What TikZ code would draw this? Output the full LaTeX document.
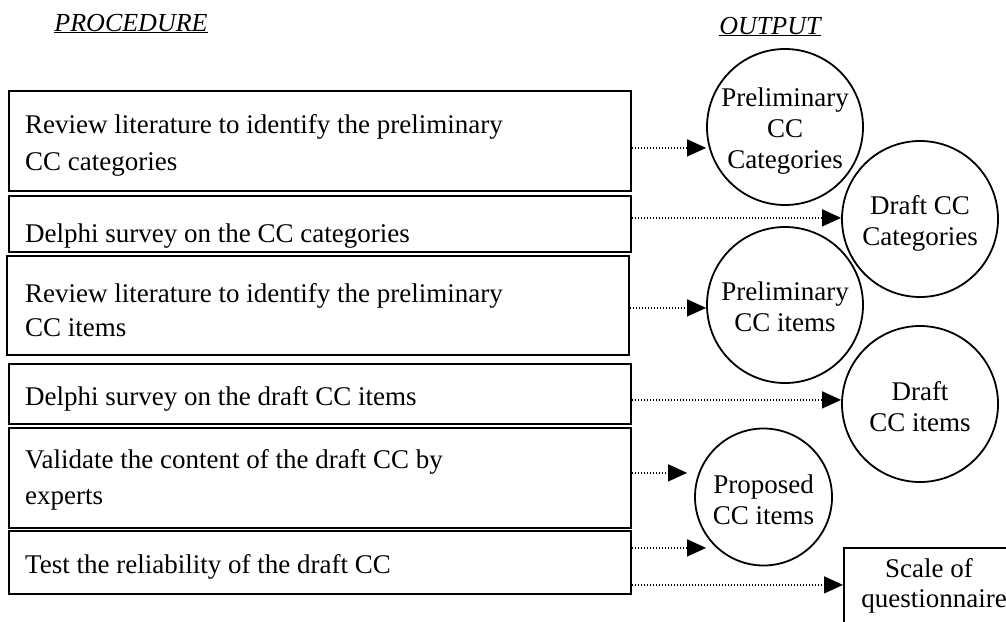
\documentclass[tikz,border=0pt]{standalone}
\usepackage{fontspec}
\setmainfont{Liberation Serif}
\usetikzlibrary{arrows.meta}
\begin{document}
\begin{tikzpicture}[x=1pt,y=-1pt,
  stepbox/.style={draw, line width=1.8pt, rectangle, inner sep=0pt, anchor=north west, minimum width=622pt},
  outc/.style={draw, line width=1.8pt, circle, inner sep=0pt},
  btxt/.style={anchor=base west, inner sep=0pt, font=\fontsize{27}{31}\selectfont},
  ctxt/.style={align=center, inner sep=0pt, font=\fontsize{27}{31}\selectfont},
  head/.style={anchor=base, inner sep=0pt, font=\fontsize{26}{30}\selectfont\itshape},
  conn/.style={line width=1.3pt, dash pattern=on 1.4pt off 1.6pt, -{Triangle[length=19pt,width=17pt]}}]
\useasboundingbox (0,0) rectangle (1006,621);
\clip (0,0) rectangle (1006,621);

% headings
\node[head] (hproc) at (131,31) {\underline{PROCEDURE}};
\node[head] (hout) at (770,34) {\underline{OUTPUT}};

% procedure boxes
\node[stepbox, minimum height=100pt] (b1) at (8,90) {};
\node[stepbox, minimum height=56pt] (b2) at (8,195) {};
\node[stepbox, minimum height=99pt] (b3) at (6,255) {};
\node[stepbox, minimum height=60pt] (b4) at (8,363) {};
\node[stepbox, minimum height=100pt] (b5) at (8,427) {};
\node[stepbox, minimum height=63pt] (b6) at (8,530) {};

\node[btxt] (t1a) at (25,133) {Review literature to identify the preliminary};
\node[btxt] (t1b) at (25,170) {CC categories};
\node[btxt] (t2a) at (25,242) {Delphi survey on the CC categories};
\node[btxt] (t3a) at (25,302) {Review literature to identify the preliminary};
\node[btxt] (t3b) at (25,336) {CC items};
\node[btxt] (t4a) at (25,405) {Delphi survey on the draft CC items};
\node[btxt] (t5a) at (25,468) {Validate the content of the draft CC by};
\node[btxt] (t5b) at (25,504) {experts};
\node[btxt] (t6a) at (25,573) {Test the reliability of the draft CC};

% outputs
\node[outc, minimum size=156pt] (c1) at (785,127) {};
\node[outc, minimum size=156pt] (c2) at (920,219) {};
\node[outc, minimum size=156pt] (c3) at (785,305) {};
\node[outc, minimum size=156pt] (c4) at (920,404) {};
\node[outc, minimum size=137pt] (c5) at (763.5,497) {};
\node[draw, line width=1.8pt, rectangle, inner sep=0pt, anchor=north west, minimum width=172pt, minimum height=100pt] (sq) at (843,547) {};

\node[ctxt] (l1) at (785,131) {Preliminary\\CC\\Categories};
\node[ctxt] (l2) at (920,223) {Draft CC\\Categories};
\node[ctxt] (l3) at (785,307) {Preliminary\\CC items};
\node[ctxt] (l4) at (920,407) {Draft\\CC items};
\node[ctxt] (l5) at (763.5,500) {Proposed\\CC items};
\node[btxt, anchor=base] (s1) at (929,577) {Scale of};
\node[btxt, anchor=base] (s2) at (934,607) {questionnaire};

% connectors
\draw[conn] ([yshift=-7pt]b1.east) -- ([yshift=-7pt]b1.east -| c1.west);
\draw[conn] ([yshift=6pt]b2.east) -- ([yshift=6pt]b2.east -| c2.west);
\draw[conn] ([yshift=-2.5pt]b3.east) -- ([yshift=-2.5pt]b3.east -| c3.west);
\draw[conn] ([yshift=-6pt]b4.east) -- ([yshift=-6pt]b4.east -| c4.west);
\coordinate (e5) at ([xshift=-7pt]c5.west |- 0,472);
\coordinate (e6) at ([xshift=12pt]c5.west |- 0,547);
\draw[conn] ([yshift=5pt]b5.east) -- ([yshift=5pt]b5.east -| e5);
\draw[conn] ([yshift=14.5pt]b6.east) -- ([yshift=14.5pt]b6.east -| e6);
\draw[conn] ([yshift=-22.5pt]b6.east) -- ([yshift=-22.5pt]b6.east -| sq.west);
\end{tikzpicture}
\end{document}
